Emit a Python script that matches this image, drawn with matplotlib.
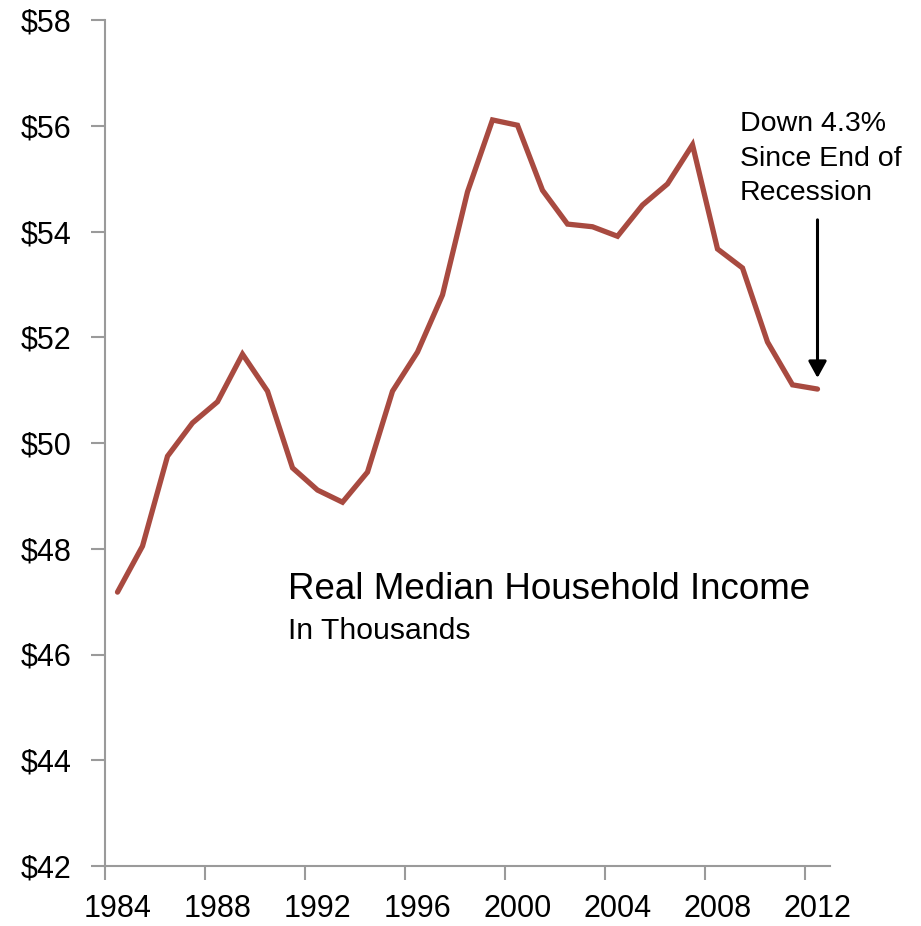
import matplotlib.pyplot as plt
import numpy as np

plt.rcParams['font.family'] = ['Liberation Sans', 'DejaVu Sans']

# real median household income, thousands of dollars
years = np.arange(1984, 2013)
income = [47.18, 48.05, 49.75, 50.38, 50.78, 51.68, 50.98, 49.53, 49.11, 48.88,
          49.45, 50.98, 51.72, 52.80, 54.75, 56.11, 56.01, 54.78, 54.14, 54.09,
          53.91, 54.50, 54.90, 55.64, 53.67, 53.31, 51.91, 51.10, 51.02]
yticks = np.arange(42, 59, 2)
xticks = np.arange(1984, 2013, 4)
note_lines = ['Down 4.3%', 'Since End of', 'Recession']

fig = plt.figure(figsize=(9.21, 9.26), dpi=100)
ax = fig.add_axes([105/921, 1 - 866/926, 725/921, 846/926])

# each year's point sits in the middle of its slot
ax.plot(years + 0.5, income, color='#A84A40', lw=3.8, solid_capstyle='round',
        solid_joinstyle='miter')

ax.set_xlim(1984, 2013)
ax.set_ylim(42, 58)

# tick marks on the year boundaries, labels centred on the year
ax.set_xticks(xticks)
ax.set_xticklabels([])
ax.set_xticks(xticks + 0.5, minor=True)
ax.set_xticklabels([str(y) for y in xticks], minor=True)
ax.set_yticks(yticks)
ax.set_yticklabels(['$%d' % v for v in yticks])

for s in ['top', 'right']:
    ax.spines[s].set_visible(False)
for s in ['left', 'bottom']:
    ax.spines[s].set_color('#9a9a9a')
    ax.spines[s].set_linewidth(1.5)
ax.tick_params(colors='#9a9a9a', width=1.5, length=10, labelsize=22,
               labelcolor='black')
ax.tick_params(axis='x', which='minor', length=0, pad=20, labelsize=22,
               labelcolor='black')
ax.tick_params(axis='y', pad=14)

ax.text(1991.3, 47.05, 'Real Median Household Income', fontsize=26.5,
        va='baseline', ha='left')
ax.text(1991.3, 46.29, 'In Thousands', fontsize=21.7, va='baseline', ha='left')

for y, line in zip([55.90, 55.24, 54.60], note_lines):
    ax.text(2009.4, y, line, fontsize=20.5, va='baseline', ha='left')
ax.annotate('', xy=(2012.5, 51.23), xytext=(2012.5, 54.22),
            arrowprops=dict(arrowstyle='-|>,head_width=0.55,head_length=1.0',
                            color='black', lw=2.2, shrinkA=0, shrinkB=0))

fig.savefig('out.png', dpi=100)
